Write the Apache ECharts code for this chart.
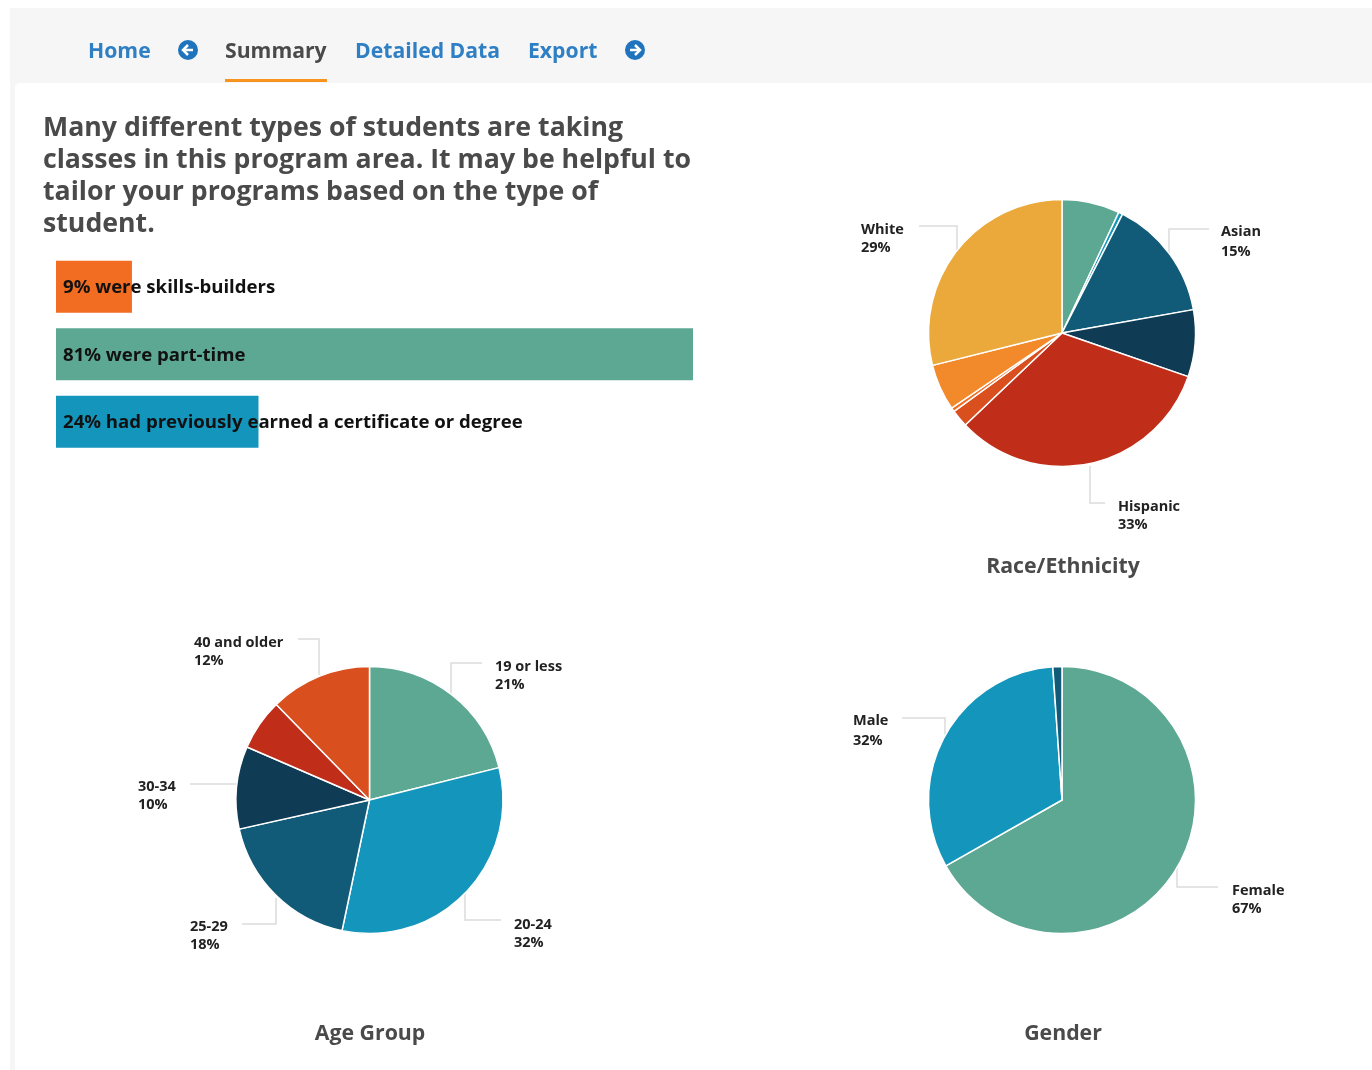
<!DOCTYPE html>
<html><head><meta charset="utf-8">
<style>html,body{margin:0;padding:0;background:#fff}#c{width:1372px;height:1070px;filter:blur(0.4px)}</style>
<script src="https://cdn.jsdelivr.net/npm/echarts@6/dist/echarts.min.js"></script>
</head><body><div id="c"></div>
<script>
const navItems = ['Home','Summary','Detailed Data','Export'];
const headingLines = ['Many different types of students are taking','classes in this program area. It may be helpful to','tailor your programs based on the type of','student.'];
const barLabels = ['9% were skills-builders','81% were part-time','24% had previously earned a certificate or degree'];
const barValues = [9,81,24];
const barColors = ['#F26D21','#5DA892','#1495BC'];

const raceNames = ['Other A','Pacific Islander','Asian','Filipino','Hispanic','Multi','Native American','Unknown','White'];
const raceValues = [7,0.5,14.7,8.1,32.6,2.1,0.5,5.6,28.9];
const raceColors = ['#5DA892','#1495BC','#115B79','#0F3B54','#C02E1A','#D94F1E','#F26D21','#F28A2C','#EAA93A'];
const ageNames = ['19 or less','20-24','25-29','30-34','35-39','40 and older'];
const ageValues = [21.1,32.2,18.2,10,6.2,12.3];
const ageColors = ['#5DA892','#1495BC','#115B79','#0F3B54','#C02E1A','#D94F1E'];
const genderNames = ['Female','Male','Unknown'];
const genderValues = [66.8,32.1,1.1];
const genderColors = ['#5DA892','#1495BC','#115B79'];

const FONT = '"Open Sans", sans-serif';
// label placement: box top-left, line height, elbow leader
const raceLabels = {
  White:{x:861,y:221,lh:18,line:[[919,226],[957,226],[957,250]]},
  Asian:{x:1221,y:222,lh:20,line:[[1209,229],[1169,229],[1169,262]]},
  Hispanic:{x:1118,y:498,lh:18,line:[[1105,503],[1090,503],[1090,466]]}
};
const ageLabels = {
  '40 and older':{x:194,y:634,lh:18,line:[[298,639],[319,639],[319,675]]},
  '19 or less':{x:495,y:658,lh:18,line:[[482,663],[451,663],[451,695]]},
  '30-34':{x:138,y:778,lh:18,line:[[190,784],[237,784]]},
  '25-29':{x:190,y:918,lh:18,line:[[242,924],[276,924],[276,898]]},
  '20-24':{x:514,y:916,lh:18,line:[[501,920],[465,920],[465,893]]}
};
const genderLabels = {
  Male:{x:853,y:711,lh:20,line:[[902,718],[945,718],[945,735]]},
  Female:{x:1232,y:882,lh:18,line:[[1218,887],[1177,887],[1177,865]]}
};

function pie(names, values, colors, labels, center){
  return {
    type:'pie', center, radius:133.5, startAngle:90, clockwise:true, silent:true, animation:false,
    avoidLabelOverlap:false, z:3,
    itemStyle:{borderColor:'#fff',borderWidth:1.5},
    data:names.map((n,i)=>{
      const l = labels[n];
      return {name:n,value:values[i],itemStyle:{color:colors[i]},
        label:l?{show:true,position:'outside',formatter:n+'\n'+Math.round(values[i])+'%',
          fontFamily:FONT,fontWeight:700,fontSize:14.5,color:'#222',lineHeight:l.lh,align:'left'}:{show:false},
        labelLine:{show:!!l,lineStyle:{color:'#dcdcdc',width:1.5}}};
    }),
    labelLayout:(p)=>{
      const l = labels[names[p.dataIndex]];
      if(!l) return {};
      return {x:l.x,y:l.y,align:'left',verticalAlign:'top',labelLinePoints:l.line};
    }
  };
}

const navPos = [88,225,355,528];
const g = [
  {type:'rect',z:0,shape:{x:10,y:8,width:1362,height:1062},style:{fill:'#f6f6f6'}},
  {type:'rect',z:1,shape:{x:15,y:83,width:1357,height:987,r:[5,0,0,0]},style:{fill:'#fff'}},
  {type:'rect',z:2,shape:{x:225,y:79,width:102,height:3},style:{fill:'#F7941D'}},
  {type:'circle',z:2,shape:{cx:188,cy:50,r:10},style:{fill:'#1f74bd'}},
  {type:'polyline',z:3,shape:{points:[[193,50],[183,50]]},style:{stroke:'#fff',lineWidth:2.5,fill:null}},
  {type:'polyline',z:3,shape:{points:[[188,45],[183,50],[188,55]]},style:{stroke:'#fff',lineWidth:2.5,fill:null}},
  {type:'circle',z:2,shape:{cx:635,cy:50,r:10},style:{fill:'#1f74bd'}},
  {type:'polyline',z:3,shape:{points:[[630,50],[640,50]]},style:{stroke:'#fff',lineWidth:2.5,fill:null}},
  {type:'polyline',z:3,shape:{points:[[635,45],[640,50],[635,55]]},style:{stroke:'#fff',lineWidth:2.5,fill:null}}
];
navItems.forEach((t,i)=>g.push({type:'text',z:3,x:navPos[i],y:52,style:{text:t,
  font:'700 21.2px '+FONT,fill:t==='Summary'?'#4a4a4a':'#2f7fc4',verticalAlign:'middle',align:'left'}}));
headingLines.forEach((t,i)=>g.push({type:'text',z:3,x:43,y:128.5+32*i,style:{text:t,
  font:'700 26.7px '+FONT,fill:'#4a4a4a',verticalAlign:'middle',align:'left'}}));
[['Race/Ethnicity',1063,567],['Age Group',370,1034],['Gender',1063,1034]].forEach(t=>g.push({type:'text',z:3,x:t[1],y:t[2],style:{text:t[0],
  font:'700 21.3px '+FONT,fill:'#4a4a4a',verticalAlign:'middle',align:'center'}}));

const chart = echarts.init(document.getElementById('c'),null,{renderer:'canvas',width:1372,height:1070});
chart.setOption({
  animation:false,
  backgroundColor:'#fff',
  graphic:g,
  grid:{left:56,top:253,width:637,height:202.5,containLabel:false},
  xAxis:{type:'value',min:0,max:75.5,show:false},
  yAxis:{type:'category',inverse:true,data:barLabels,show:false},
  series:[
    {type:'bar',barWidth:52,silent:true,clip:true,z:3,
     data:barValues.map((v,i)=>({value:v,itemStyle:{color:barColors[i]}})),
     label:{show:true,position:'insideLeft',distance:7,offset:[0,1],
       formatter:p=>barLabels[p.dataIndex],fontFamily:FONT,fontWeight:700,fontSize:18.6,color:'#111'}},
    pie(raceNames,raceValues,raceColors,raceLabels,[1062,333]),
    pie(ageNames,ageValues,ageColors,ageLabels,[369.5,800]),
    pie(genderNames,genderValues,genderColors,genderLabels,[1062,800])
  ]
});
</script></body></html>
